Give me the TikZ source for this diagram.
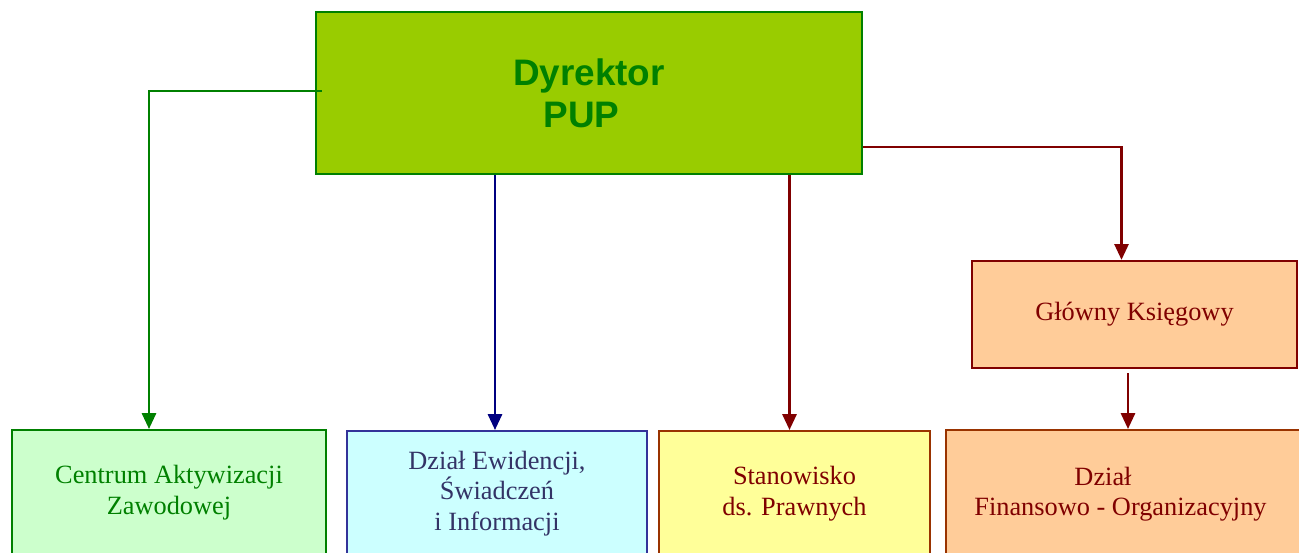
\documentclass[tikz,border=0pt]{standalone}
\usepackage{fontspec}
\setmainfont{Liberation Serif}
\newfontfamily\dyrfont{Liberation Sans}
\usetikzlibrary{arrows.meta}

\definecolor{dyrfill}{HTML}{99CC00}
\definecolor{dyrgreen}{HTML}{008000}
\definecolor{darkred}{HTML}{800000}
\definecolor{navy}{HTML}{000080}
\definecolor{brownline}{HTML}{993300}
\definecolor{navytext}{HTML}{333366}
\definecolor{blueline}{HTML}{333399}

\begin{document}
\begin{tikzpicture}[x=0.02cm, y=-0.02cm,
    box/.style={draw, line width=1.3pt, align=center, inner sep=0pt,
        font=\fontsize{15}{17.25}\selectfont},
    bottombox/.style={box, anchor=north, minimum height=2.5cm},
    conn/.style={line width=1.4pt, -{Triangle[width=8pt,length=9pt]}}]
    \path[use as bounding box, clip] (0,0) rectangle (1299,553);

    \node[box, draw=dyrgreen, fill=dyrfill, text=dyrgreen, minimum width=10.92cm, minimum height=3.24cm,
        font=\dyrfont\bfseries\fontsize{21}{24}\selectfont] (dyr) at (589,93) {Dyrektor\\PUP\hspace*{0.3cm}};
    \node[box, draw=darkred, fill={rgb,255:red,255;green,204;blue,153}, text=darkred,
        minimum width=6.5cm, minimum height=2.14cm] (gks) at (1134.5,314.5) {Główny Księgowy};

    % dzialy
    \node[bottombox, draw=dyrgreen, fill={rgb,255:red,204;green,255;blue,204}, text=dyrgreen,
        minimum width=6.28cm] (caz) at (169,429) {Centrum Aktywizacji\\Zawodowej};
    \node[bottombox, draw=blueline, fill={rgb,255:red,204;green,255;blue,255}, text=navytext,
        minimum width=6cm] (dew) at (497,430) {Dział Ewidencji,\\Świadczeń\\i Informacji};
    \node[bottombox, draw=brownline, fill={rgb,255:red,255;green,255;blue,153}, text=darkred,
        minimum width=5.42cm] (sta) at (794.5,430) {Stanowisko\\ds. Prawnych};
    \node[bottombox, draw=brownline, fill={rgb,255:red,255;green,204;blue,153}, text=darkred,
        minimum width=7.28cm, minimum height=2.56cm] (dfo) at (1128,429)
        {Dział\hspace*{1cm}\\Finansowo - Organizacyjny\hspace*{0.3cm}};

    \draw[conn, dyrgreen] ([xshift=0.14cm, yshift=0.04cm]dyr.west) -| ([xshift=-0.4cm]caz.north);
    \draw[conn, navy] ([xshift=-0.04cm]dew.north |- dyr.south) -- ([xshift=-0.04cm]dew.north);
    \draw[conn, darkred] ([xshift=-0.1cm]sta.north |- dyr.south) -- ([xshift=-0.1cm]sta.north);
    \draw[conn, darkred] ([yshift=-1.08cm]dyr.east) -| ([xshift=-0.26cm]gks.north);
    \draw[conn, darkred] ([yshift=-0.08cm]gks.south -| dfo.north) -- (dfo.north);
\end{tikzpicture}
\end{document}
